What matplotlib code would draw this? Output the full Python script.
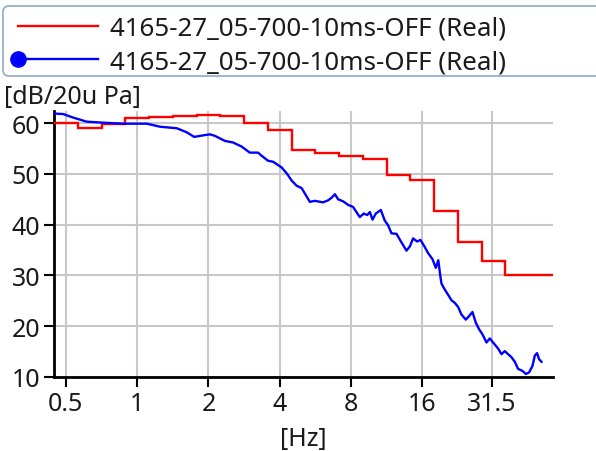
import numpy as np
import matplotlib.pyplot as plt
from matplotlib.lines import Line2D
from matplotlib.patches import FancyBboxPatch
from matplotlib.legend_handler import HandlerLine2D

plt.rcParams['font.family'] = ['Noto Sans', 'DejaVu Sans']

# third-octave bands (red step curve)
band_centers = [0.5, 0.63, 0.8, 1, 1.25, 1.6, 2, 2.5, 3.15, 4, 5, 6.3, 8, 10,
                12.5, 16, 20, 25, 31.5, 40, 50]
band_levels = [60.0, 59.0, 59.8, 61.1, 61.3, 61.5, 61.7, 61.4, 60.0, 58.6, 54.7,
               54.1, 53.6, 52.9, 49.8, 48.9, 42.7, 36.6, 32.8, 30.0, 30.0]

# narrow-band spectrum (blue curve)
spec_freq = [0.445, 0.487, 0.537, 0.612, 0.716, 0.870, 1.10, 1.25, 1.47, 1.62,
             1.74, 1.90, 2.03, 2.13, 2.35, 2.54, 2.76, 2.99, 3.24, 3.35,
             3.57, 3.75, 4.07, 4.30, 4.49, 4.71, 4.95, 5.16, 5.36, 5.63,
             6.10, 6.40, 6.62, 6.84, 7.06, 7.41, 7.78, 8.16, 8.71, 9.06,
             9.36, 9.61, 9.86, 10.18, 10.69, 11.11, 11.47, 11.86, 12.45, 13.07,
             13.72, 14.17, 14.63, 15.21, 15.72, 16.39, 16.93, 17.67, 18.24, 18.69,
             19.06, 19.28, 19.92, 20.56, 21.26, 21.95, 22.66, 23.42, 24.42, 25.21,
             26.06, 26.91, 27.80, 28.72, 29.86, 30.84, 31.84, 33.43, 34.56, 35.68,
             36.84, 38.08, 39.32, 40.62, 42.38, 43.77, 45.19, 46.72, 47.77, 48.84,
             49.80, 50.98]
spec_level = [61.9, 61.8, 61.1, 60.3, 60.1, 59.9, 59.9, 59.3, 59.0, 58.2,
              57.3, 57.6, 57.8, 57.5, 56.5, 56.2, 55.4, 54.2, 54.2, 53.6,
              52.6, 52.4, 51.3, 50.0, 48.7, 47.7, 47.2, 45.8, 44.5, 44.7,
              44.4, 44.8, 45.3, 46.0, 45.0, 44.6, 43.9, 43.5, 41.5, 42.2,
              41.9, 42.5, 41.0, 42.2, 42.9, 40.8, 39.9, 38.3, 38.2, 36.5,
              34.9, 35.7, 37.3, 36.7, 37.0, 35.6, 34.4, 33.2, 31.5, 33.0,
              29.9, 28.4, 27.2, 26.2, 25.1, 24.6, 23.8, 22.3, 21.3, 22.0,
              22.8, 20.7, 19.4, 18.4, 16.8, 17.6, 16.8, 15.6, 14.5, 15.1,
              14.5, 13.9, 13.0, 11.6, 11.2, 10.6, 10.9, 12.2, 14.2, 14.7,
              13.5, 13.0]

x_ticks = [0.5, 1, 2, 4, 8, 16, 31.5]
x_tick_labels = ['0.5', '1', '2', '4', '8', '16', '31.5']
y_ticks = [10, 20, 30, 40, 50, 60]
series_name = '4165-27_05-700-10ms-OFF (Real)'


class LeftMarkerHandler(HandlerLine2D):
    # put the marker at the left end of the legend line
    def create_artists(self, legend, orig_handle, xdescent, ydescent,
                       width, height, fontsize, trans):
        arts = super().create_artists(legend, orig_handle, xdescent, ydescent,
                                      width, height, fontsize, trans)
        for a in arts:
            a.set_markevery([0])
        return arts


# band edges at +-1/6 octave around each centre
edges = 0.5 * 2.0 ** ((np.arange(len(band_centers) + 1) - 0.5) / 3)

fig = plt.figure(figsize=(5.96, 4.52), dpi=100)
ax = fig.add_axes([54 / 596, 74 / 452, 499 / 596, 266 / 452])

ax.stairs(band_levels, edges, baseline=None, color='#ff0000', lw=1.7, zorder=3)
ax.plot(spec_freq, spec_level, color='#0000ff', lw=1.7, zorder=4)

ax.set_xscale('log', base=2)
ax.set_xlim(edges[0], edges[-1])
ax.set_ylim(10, 62.4)
ax.set_xticks(x_ticks)
ax.set_xticklabels(x_tick_labels)
ax.minorticks_off()
ax.set_yticks(y_ticks)

ax.grid(True, color='#c8c8c8', lw=1.5)
ax.set_axisbelow(True)
for s in ['top', 'right']:
    ax.spines[s].set_visible(False)
for s in ['left', 'bottom']:
    ax.spines[s].set_linewidth(2)
    ax.spines[s].set_color('black')
ax.tick_params(direction='out', length=7, width=1.5, labelsize=18,
               labelcolor='#1a1a1a', pad=3)

ax.set_xlabel('[Hz]', fontsize=18, color='#1a1a1a', labelpad=7)
ax.set_ylabel('[dB/20u Pa]', fontsize=18, color='#1a1a1a', rotation=0,
              ha='left', va='center')
ax.yaxis.set_label_coords(-0.1, 1.056)

# legend frame sticks out past the right edge like in the original
frame = FancyBboxPatch((0.03, 3.75), 7.0, 0.70, boxstyle='round,pad=0,rounding_size=0.06',
                       transform=fig.dpi_scale_trans, fc='white', ec='#8ea9cc', lw=1.2)
fig.patches.append(frame)

h_red = Line2D([], [], color='#ff0000', lw=1.7)
h_blue = Line2D([], [], color='#0000ff', lw=1.7, marker='o', ms=11)
leg = fig.legend([h_red, h_blue], [series_name, series_name], loc='upper left',
                 bbox_to_anchor=(6 / 596, 1 - 5 / 452), frameon=False, fontsize=18.7,
                 numpoints=1, handlelength=3.1, handletextpad=0.46,
                 labelspacing=0.34, borderaxespad=0.0, borderpad=0.45,
                 handler_map={h_blue: LeftMarkerHandler()})
for t in leg.get_texts():
    t.set_color('#1a1a1a')

fig.savefig('out.png', dpi=100)
